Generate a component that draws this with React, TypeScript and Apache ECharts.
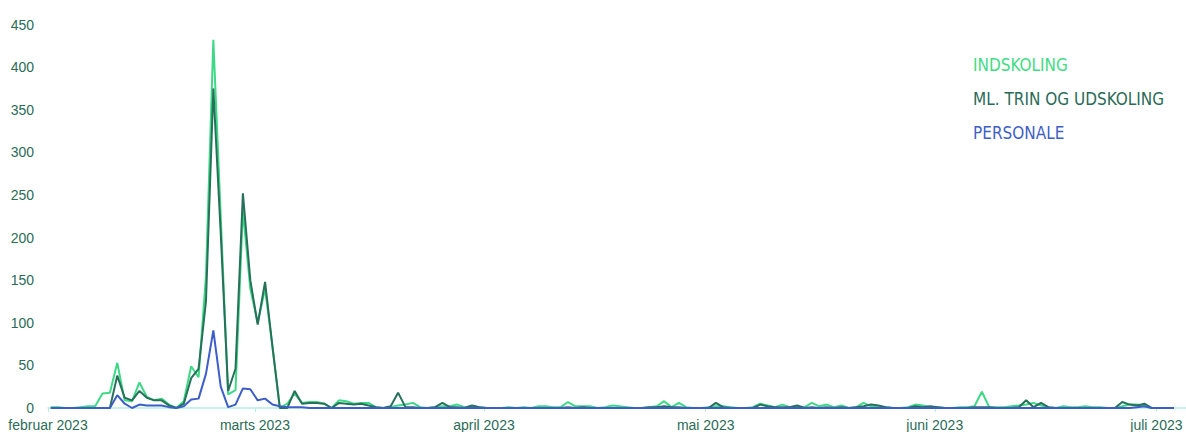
import React, { useEffect, useRef } from "react";
import * as echarts from "echarts";

const START = Date.UTC(2023, 1, 1);
const END = Date.UTC(2023, 6, 5);
const DAY = 86400000;
const HOUR = 3600000;
const MONTHS = ["januar", "februar", "marts", "april", "mai", "juni", "juli", "august", "september", "oktober", "november", "december"];
const SERIES_NAMES = ["INDSKOLING", "ML. TRIN OG UDSKOLING", "PERSONALE"];
const SERIES_COLORS = ["#3ed987", "#27705a", "#3d5ec8"];
const LEGEND_COLORS = ["#3fdc86", "#2a6b58", "#3f5fc6"];
const Y_TICKS = { min: 0, max: 450, interval: 50 };

const indskoling = [
  1, 1, 0, 0, 1, 2, 2, 17, 18, 53,
  9, 8, 30, 13, 9, 11, 4, 0, 8, 49,
  36, 155, 432, 225, 16, 21, 232, 140, 100, 140,
  72, 0, 5, 17, 6, 7, 7, 5, 0, 9,
  8, 5, 6, 6, 1, 0, 1, 3, 4, 6,
  1, 0, 1, 2, 2, 4, 1, 2, 1, 0,
  0, 0, 1, 0, 1, 0, 2, 2, 1, 1,
  7, 2, 2, 2, 0, 1, 3, 2, 1, 0,
  0, 1, 2, 8, 1, 6, 1, 0, 0, 1,
  2, 2, 1, 0, 0, 1, 5, 3, 1, 4,
  1, 2, 1, 6, 2, 4, 1, 3, 0, 1,
  6, 2, 1, 1, 0, 0, 1, 4, 3, 1,
  1, 0, 0, 1, 1, 2, 19, 1, 1, 1,
  2, 3, 4, 6, 3, 1, 0, 2, 1, 1,
  2, 1, 1, 0, 0, 2, 4, 4, 2, 0,
  0, 0, 0,
];

const mlTrin = [
  0, 0, 0, 0, 0, 0, 0, 0, 0, 38,
  12, 9, 20, 12, 9, 9, 3, 0, 5, 35,
  46, 125, 375, 205, 20, 46, 252, 150, 98, 148,
  72, 0, 0, 20, 5, 6, 6, 5, 0, 6,
  5, 4, 5, 3, 1, 0, 2, 18, 1, 1,
  0, 0, 1, 6, 1, 1, 0, 3, 1, 0,
  0, 0, 0, 0, 0, 0, 0, 0, 0, 0,
  1, 0, 1, 0, 0, 0, 0, 0, 0, 0,
  0, 1, 1, 2, 1, 1, 0, 0, 0, 0,
  6, 1, 0, 0, 0, 0, 4, 2, 1, 1,
  1, 3, 0, 1, 0, 1, 0, 1, 0, 1,
  2, 4, 3, 1, 0, 0, 0, 2, 1, 2,
  1, 0, 0, 0, 0, 1, 1, 1, 0, 0,
  0, 1, 9, 1, 6, 1, 0, 0, 0, 0,
  0, 0, 0, 0, 0, 7, 4, 3, 5, 0,
  0, 0, 0,
];

const personale = [
  0, 0, 0, 0, 0, 0, 0, 0, 0, 15,
  5, 0, 4, 3, 3, 3, 1, 0, 2, 10,
  11, 40, 91, 25, 1, 4, 23, 22, 9, 11,
  4, 2, 1, 1, 1, 0, 0, 0, 0, 0,
  0, 0, 0, 0, 0, 0, 0, 0, 0, 0,
  0, 0, 0, 0, 0, 0, 0, 0, 0, 0,
  0, 0, 0, 0, 0, 0, 0, 0, 0, 0,
  0, 0, 0, 0, 0, 0, 0, 0, 0, 0,
  0, 0, 0, 0, 0, 0, 0, 0, 0, 0,
  0, 0, 0, 0, 0, 0, 0, 0, 0, 0,
  0, 0, 0, 0, 0, 0, 0, 0, 0, 0,
  0, 0, 0, 0, 0, 0, 0, 0, 0, 0,
  0, 0, 0, 0, 0, 0, 0, 0, 0, 0,
  0, 0, 0, 0, 0, 0, 0, 0, 0, 0,
  0, 0, 0, 0, 0, 0, 0, 1, 2, 0,
  0, 0, 0,
];

const SERIES_VALUES = [indskoling, mlTrin, personale];
// daily records, time-stamped at 09:00 UTC
const dates = indskoling.map((_, i) => START + i * DAY + 9 * HOUR);

const AXIS_TEXT = "#2b6b58";
const AXIS_FONT = "'Liberation Sans', Arial, sans-serif";
const LEGEND_FONT = "'DejaVu Sans Condensed', 'Liberation Sans Narrow', sans-serif";

export default function App() {
  const ref = useRef<HTMLDivElement>(null);
  useEffect(() => {
    const chart = echarts.init(ref.current!, null, { renderer: "svg" });
    chart.setOption({
      animation: false,
      useUTC: true,
      backgroundColor: "#ffffff",
      grid: { left: 48, right: 0, top: 24.5, bottom: 24, containLabel: false },
      legend: {
        orient: "vertical",
        left: 963,
        top: 50,
        icon: "none",
        itemWidth: 0,
        itemHeight: 20,
        itemGap: 14,
        selectedMode: false,
        textStyle: { fontSize: 17, fontFamily: LEGEND_FONT, lineHeight: 20 },
        data: SERIES_NAMES.map((n, i) => ({ name: n, textStyle: { color: LEGEND_COLORS[i] } })),
      },
      xAxis: {
        type: "time",
        min: START,
        max: END,
        splitNumber: 5,
        axisLine: { show: true, lineStyle: { color: "#b6eedf", width: 1.5 } },
        axisTick: { show: true, length: 4, lineStyle: { color: "#b6eedf" } },
        splitLine: { show: false },
        axisLabel: {
          color: AXIS_TEXT,
          fontSize: 14,
          fontFamily: AXIS_FONT,
          margin: 10,
          formatter: (v: number) => {
            const d = new Date(v);
            if (d.getUTCDate() !== 1 || d.getUTCHours() !== 0) return "";
            return MONTHS[d.getUTCMonth()] + " " + d.getUTCFullYear();
          },
        },
      },
      yAxis: {
        type: "value",
        min: Y_TICKS.min,
        max: Y_TICKS.max,
        interval: Y_TICKS.interval,
        axisLine: { show: false },
        axisTick: { show: false },
        splitLine: { show: false },
        axisLabel: { color: AXIS_TEXT, fontSize: 14, fontFamily: AXIS_FONT, margin: 14 },
      },
      series: SERIES_NAMES.map((n, i) => ({
        name: n,
        type: "line",
        showSymbol: false,
        symbol: "none",
        color: SERIES_COLORS[i],
        lineStyle: { width: 2, color: SERIES_COLORS[i] },
        data: dates.map((t, j) => [t, SERIES_VALUES[i][j]]),
      })),
    });
    return () => chart.dispose();
  }, []);
  return <div ref={ref} style={{ position: "fixed", left: 0, top: 0, width: 1186, height: 432 }} />;
}
